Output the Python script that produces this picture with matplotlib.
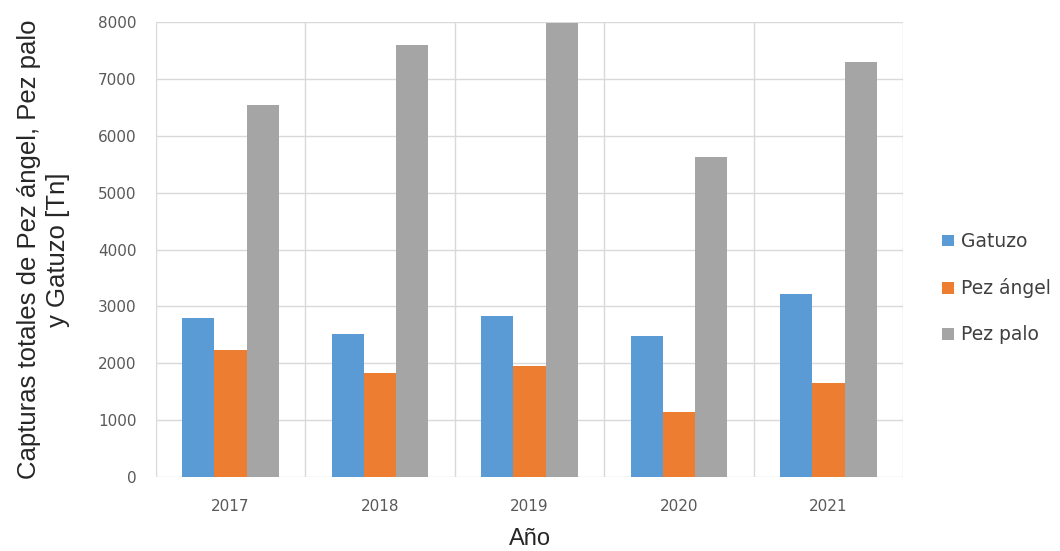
import matplotlib.pyplot as plt
import numpy as np

# Capturas anuales por especie [Tn]
anios = ['2017', '2018', '2019', '2020', '2021']
gatuzo = [2790, 2510, 2830, 2480, 3215]
pez_angel = [2230, 1830, 1950, 1140, 1650]
pez_palo = [6540, 7590, 7980, 5620, 7290]

series = [('Gatuzo', gatuzo, '#5B9BD5'),
          ('Pez ángel', pez_angel, '#ED7D31'),
          ('Pez palo', pez_palo, '#A5A5A5')]

fig = plt.figure(figsize=(10.6, 5.51), dpi=100)
ax = fig.add_axes([0.147, 0.134, 0.705, 0.826])

x = np.arange(len(anios))
ancho = 0.216
for i, (nombre, valores, color) in enumerate(series):
    ax.bar(x + (i - 1) * ancho, valores, ancho, color=color, label=nombre, zorder=3)

ax.set_xlim(-0.5, len(anios) - 0.5)
ax.set_ylim(0, 8000)
ax.set_yticks(range(0, 8001, 1000))
ax.set_xticks(x)
ax.set_xticklabels(anios)

# rejilla horizontal y separadores verticales entre categorías
ax.grid(axis='y', color='#D9D9D9', linewidth=1, zorder=0)
for b in np.arange(-0.5, len(anios), 1.0):
    ax.axvline(b, color='#D9D9D9', linewidth=1, zorder=0)

for s in ax.spines.values():
    s.set_visible(False)
ax.tick_params(axis='both', length=0, labelsize=11, colors='#595959')
ax.tick_params(axis='y', pad=14)
ax.tick_params(axis='x', pad=16)

ax.set_ylabel('Capturas totales de Pez ángel, Pez palo\ny Gatuzo [Tn]',
              fontsize=18.5, family='Liberation Sans', color='#262626',
              labelpad=20, linespacing=1.25)
ax.set_xlabel('Año', fontsize=17, family='Liberation Sans', color='#262626',
              labelpad=10)

ax.legend(loc='center left', bbox_to_anchor=(1.03, 0.415), frameon=False,
          fontsize=13.5, handlelength=0.6, handleheight=0.6, handletextpad=0.4,
          labelspacing=1.45, labelcolor='#404040')

fig.savefig('out.png', dpi=100)
